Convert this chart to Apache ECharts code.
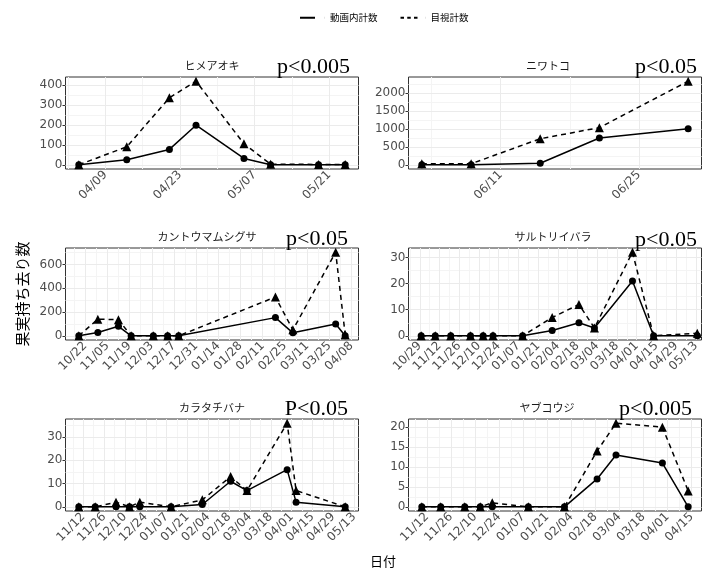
<!DOCTYPE html>
<html><head><meta charset="utf-8">
<script src="https://cdn.jsdelivr.net/npm/echarts@6/dist/echarts.min.js"></script>
<style>html,body{margin:0;padding:0;background:#fff}#c{width:715px;height:573px}</style>
</head><body><div id="c"></div>
<script>
// ---------- data ----------
const seriesNames = ['動画内計数', '目視計数'];
const panelNames = ['ヒメアオキ', 'ニワトコ', 'カントウマムシグサ', 'サルトリイバラ', 'カラタチバナ', 'ヤブコウジ'];
const pLabels = ['p<0.005', 'p<0.05', 'p<0.05', 'p<0.05', 'P<0.05', 'p<0.005'];

// ヒメアオキ
const dates1 = ['2019-04-04','2019-04-13','2019-04-21','2019-04-26','2019-05-05','2019-05-10','2019-05-19','2019-05-24'];
const video1 = [0, 25, 77, 198, 32, 0, 0, 0];
const visual1 = [0, 90, 335, 418, 105, 3, 2, 2];
const xTicks1 = ['2019-04-09','2019-04-23','2019-05-07','2019-05-21'];
const yTicks1 = [0, 100, 200, 300, 400];

// ニワトコ
const dates2 = ['2019-06-03','2019-06-08','2019-06-15','2019-06-21','2019-06-30'];
const video2 = [0, 5, 45, 750, 1010];
const visual2 = [30, 30, 730, 1040, 2340];
const xTicks2 = ['2019-06-11','2019-06-25'];
const yTicks2 = [0, 500, 1000, 1500, 2000];

// カントウマムシグサ
const dates3 = ['2018-10-18','2018-10-30','2018-11-12','2018-11-20','2018-12-04','2018-12-13','2018-12-20','2019-02-19','2019-03-02','2019-03-29','2019-04-04'];
const video3 = [0, 28, 80, 0, 0, 0, 0, 153, 25, 100, 0];
const visual3 = [0, 140, 135, 0, 0, 0, 0, 326, 50, 703, 10];
const xTicks3 = ['2018-10-22','2018-11-05','2018-11-19','2018-12-03','2018-12-17','2018-12-31','2019-01-14','2019-01-28','2019-02-11','2019-02-25','2019-03-11','2019-03-25','2019-04-08'];
const yTicks3 = [0, 200, 400, 600];

// サルトリイバラ
const dates4 = ['2018-10-30','2018-11-09','2018-11-20','2018-12-04','2018-12-13','2018-12-20','2019-01-10','2019-01-31','2019-02-19','2019-03-02','2019-03-29','2019-04-13','2019-05-14'];
const video4 = [0, 0, 0, 0, 0, 0, 0, 2, 5, 3, 21, 0, 0];
const visual4 = [0, 0, 0, 0, 0, 0, 0, 7, 12, 3, 32, 0, 1];
const xTicks4 = ['2018-10-29','2018-11-12','2018-11-26','2018-12-10','2018-12-24','2019-01-07','2019-01-21','2019-02-04','2019-02-18','2019-03-04','2019-03-18','2019-04-01','2019-04-15','2019-04-29','2019-05-13'];
const yTicks4 = [0, 10, 20, 30];

// カラタチバナ
const dates5 = ['2018-11-09','2018-11-20','2018-12-04','2018-12-13','2018-12-20','2019-01-10','2019-01-31','2019-02-19','2019-03-02','2019-03-29','2019-04-04','2019-05-07'];
const video5 = [0, 0, 0, 0, 0, 0, 1, 11, 7, 16, 2, 0];
const visual5 = [0, 0, 2, 0, 2, 0, 3, 13, 7, 36, 7, 0];
const xTicks5 = ['2018-11-12','2018-11-26','2018-12-10','2018-12-24','2019-01-07','2019-01-21','2019-02-04','2019-02-18','2019-03-04','2019-03-18','2019-04-01','2019-04-15','2019-04-29','2019-05-13'];
const yTicks5 = [0, 10, 20, 30];

// ヤブコウジ
const dates6 = ['2018-11-09','2018-11-20','2018-12-04','2018-12-13','2018-12-20','2019-01-10','2019-01-31','2019-02-19','2019-03-02','2019-03-29','2019-04-13'];
const video6 = [0, 0, 0, 0, 0, 0, 0, 7, 13, 11, 0];
const visual6 = [0, 0, 0, 0, 1, 0, 0, 14, 21, 20, 4];
const xTicks6 = ['2018-11-12','2018-11-26','2018-12-10','2018-12-24','2019-01-07','2019-01-21','2019-02-04','2019-02-18','2019-03-04','2019-03-18','2019-04-01','2019-04-15'];
const yTicks6 = [0, 5, 10, 15, 20];

const yTitle = '果実持ち去り数';
const xTitle = '日付';

// ---------- layout ----------
const panels = [
  {dates: dates1, a: video1, b: visual1, xt: xTicks1, yt: yTicks1},
  {dates: dates2, a: video2, b: visual2, xt: xTicks2, yt: yTicks2},
  {dates: dates3, a: video3, b: visual3, xt: xTicks3, yt: yTicks3},
  {dates: dates4, a: video4, b: visual4, xt: xTicks4, yt: yTicks4, xlim: ['2018-10-21', '2019-05-17']},
  {dates: dates5, a: video5, b: visual5, xt: xTicks5, yt: yTicks5},
  {dates: dates6, a: video6, b: visual6, xt: xTicks6, yt: yTicks6}
];
const colLeft = [65.5, 408.5];
const rowTop = [77, 248, 419];
const panelW = 293, panelH = 92;
const titleX = [212, 548, 207, 553, 212, 547];
const pRight = [350, 697, 348, 697, 348, 692];
const pMid = [67, 67, 239, 240, 409, 409];

function day(s) {
  const p = s.split('-').map(Number);
  return Date.UTC(p[0], p[1] - 1, p[2]) / 86400000;
}
function fmt(v) {
  const d = new Date(Math.round(v) * 86400000);
  const m = d.getUTCMonth() + 1, dd = d.getUTCDate();
  return (m < 10 ? '0' : '') + m + '/' + (dd < 10 ? '0' : '') + dd;
}
// minor breaks: midpoints between majors, plus half-steps outside if inside the limits
function minors(t, lo, hi) {
  const out = [];
  const step = t[1] - t[0];
  const cand = [t[0] - step / 2];
  for (let k = 0; k < t.length - 1; k++) cand.push((t[k] + t[k + 1]) / 2);
  cand.push(t[t.length - 1] + step / 2);
  cand.forEach(v => { if (v > lo && v < hi) out.push(v); });
  return out;
}

const grids = [], xAxes = [], yAxes = [], series = [], graphics = [];
const tickColor = '#333333', labColor = '#4d4d4d', gridColor = '#ebebeb', minorColor = '#f4f4f4';
const numFont = 'DejaVu Sans';
const jpFont = 'Noto Sans CJK JP';

panels.forEach((p, i) => {
  const col = i % 2, row = Math.floor(i / 2);
  grids.push({left: colLeft[col], top: rowTop[row], width: panelW, height: panelH,
    show: true, borderColor: '#333333', borderWidth: 1, backgroundColor: 'transparent', containLabel: false});
  const xs = p.dates.map(day);
  let xmin = Math.min(...xs), xmax = Math.max(...xs), xr = xmax - xmin;
  let xlo = xmin - 0.05 * xr, xhi = xmax + 0.05 * xr;
  if (p.xlim) { xlo = day(p.xlim[0]); xhi = day(p.xlim[1]); }
  const ymax = Math.max(...p.a, ...p.b);
  const ylo = -0.05 * ymax, yhi = 1.05 * ymax;
  const xtv = p.xt.map(day);
  xAxes.push({type: 'value', gridIndex: i, min: xlo, max: xhi,
    axisLine: {show: false},
    axisTick: {show: true, customValues: xtv, length: 3, lineStyle: {color: tickColor}},
    axisLabel: {customValues: xtv, rotate: 45, formatter: fmt, color: labColor, fontSize: 12, fontFamily: numFont, margin: 4},
    splitLine: {show: false}
  });
  yAxes.push({type: 'value', gridIndex: i, min: ylo, max: yhi,
    axisLine: {show: false},
    axisTick: {show: true, customValues: p.yt, length: 3, lineStyle: {color: tickColor}},
    axisLabel: {customValues: p.yt, formatter: v => String(v), color: labColor, fontSize: 12, fontFamily: numFont, margin: 3},
    splitLine: {show: false}
  });
  // panel grid lines, placed through the axes' own scales, drawn beneath the data
  const gl = [];
  minors(xtv, xlo, xhi).forEach(v => gl.push({xAxis: v, lineStyle: {color: minorColor, width: 1}}));
  minors(p.yt, ylo, yhi).forEach(v => gl.push({yAxis: v, lineStyle: {color: minorColor, width: 1}}));
  xtv.forEach(v => gl.push({xAxis: v, lineStyle: {color: gridColor, width: 1}}));
  p.yt.forEach(v => gl.push({yAxis: v, lineStyle: {color: gridColor, width: 1}}));
  series.push({name: 'grid' + i, type: 'line', xAxisIndex: i, yAxisIndex: i, data: [], silent: true, z: 1,
    markLine: {z: 1, silent: true, symbol: ['none', 'none'], label: {show: false}, animation: false,
      emphasis: {disabled: true}, lineStyle: {type: 'solid'}, data: gl}});
  series.push({name: seriesNames[0], type: 'line', xAxisIndex: i, yAxisIndex: i,
    data: xs.map((x, j) => [x, p.a[j]]), symbol: 'circle', symbolSize: 7,
    itemStyle: {color: '#000'}, lineStyle: {color: '#000', width: 1.5, type: 'solid'}, z: 3});
  series.push({name: seriesNames[1], type: 'line', xAxisIndex: i, yAxisIndex: i,
    data: xs.map((x, j) => [x, p.b[j]]), symbol: 'triangle', symbolSize: 9,
    itemStyle: {color: '#000'}, lineStyle: {color: '#000', width: 1.5, type: [5, 4]}, z: 4});
  graphics.push({type: 'text', x: titleX[i], y: rowTop[row] - 11,
    style: {text: panelNames[i], fontSize: 11, fontFamily: jpFont, fill: '#1a1a1a',
      textAlign: 'center', textVerticalAlign: 'middle', align: 'center', verticalAlign: 'middle'}});
  graphics.push({type: 'text', x: pRight[i], y: pMid[i],
    style: {text: pLabels[i], fontSize: 22, fontFamily: 'Liberation Serif', fill: '#000',
      textAlign: 'right', textVerticalAlign: 'middle', align: 'right', verticalAlign: 'middle'}, z: 10});
});

graphics.push({type: 'text', x: 22, y: 294, rotation: Math.PI / 2,
  style: {text: yTitle, fontSize: 15, fontFamily: jpFont, fill: '#000',
    textAlign: 'center', textVerticalAlign: 'middle', align: 'center', verticalAlign: 'middle'}});
graphics.push({type: 'text', x: 383, y: 561,
  style: {text: xTitle, fontSize: 13, fontFamily: jpFont, fill: '#000',
    textAlign: 'center', textVerticalAlign: 'middle', align: 'center', verticalAlign: 'middle'}});

const chart = echarts.init(document.getElementById('c'), null, {renderer: 'canvas'});
chart.setOption({
  animation: false,
  backgroundColor: '#fff',
  legend: {
    top: 8, left: 295, itemWidth: 25, itemHeight: 2, itemGap: 23,
    textStyle: {fontSize: 9.5, fontFamily: jpFont, color: '#000'},
    data: [
      {name: seriesNames[0], icon: 'path://M0,0h15v2h-15zM24.9,0h0.1v2h-0.1z', itemStyle: {color: '#000'}},
      {name: seriesNames[1], icon: 'path://M0,0h3.5v2h-3.5zM6.75,0h3.5v2h-3.5zM13.5,0h3.5v2h-3.5zM24.9,0h0.1v2h-0.1z', itemStyle: {color: '#000'}}
    ]
  },
  grid: grids, xAxis: xAxes, yAxis: yAxes, series: series, graphic: graphics
});
</script></body></html>
